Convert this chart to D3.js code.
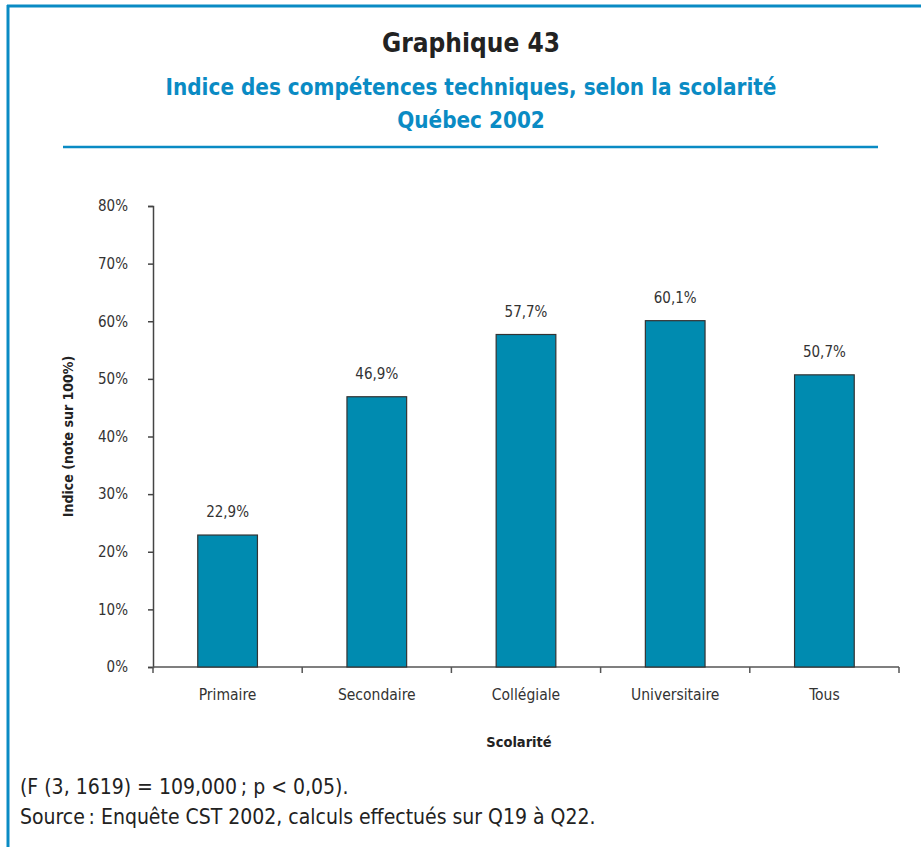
<!DOCTYPE html>
<html>
<head>
<meta charset="utf-8">
<script src="https://cdn.jsdelivr.net/npm/d3@7"></script>
<style>
  body { margin: 0; background: #fff; }
  svg { display: block; }
</style>
</head>
<body>
<svg id="chart" width="921" height="847"></svg>
<script>
// Scolarité categories and technical-skills index (%)
const categories = ["Primaire", "Secondaire", "Collégiale", "Universitaire", "Tous"];
const values = [22.9, 46.9, 57.7, 60.1, 50.7];
const yTicks = [0, 10, 20, 30, 40, 50, 60, 70, 80];

const titleText = "Graphique 43";
const subtitleLines = ["Indice des compétences techniques, selon la scolarité", "Québec 2002"];
const yAxisTitle = "Indice (note sur 100%)";
const xAxisTitle = "Scolarité";
const footerLines = [
  "(F (3, 1619) = 109,000\u2009; p < 0,05).",
  "Source\u2009: Enquête CST 2002, calculs effectués sur Q19 à Q22."
];

const FONT = "'Liberation Sans Narrow', 'DejaVu Sans Condensed', 'Open Sans', sans-serif";
const BLUE = "#0a8bc4";
const BAR = "#008bb0";

const svg = d3.select("#chart");

// Frame
svg.append("line").attr("x1", 7).attr("x2", 921).attr("y1", 6).attr("y2", 6)
  .attr("stroke", BLUE).attr("stroke-width", 3);
svg.append("line").attr("x1", 8).attr("x2", 8).attr("y1", 5).attr("y2", 847)
  .attr("stroke", BLUE).attr("stroke-width", 3);

// Titles
svg.append("text").attr("x", 471).attr("y", 52).attr("text-anchor", "middle")
  .attr("font-family", FONT).attr("font-weight", "bold").attr("font-size", 26)
  .attr("fill", "#222").text(titleText);
subtitleLines.forEach((t, i) => {
  svg.append("text").attr("x", 471).attr("y", 95 + i * 33).attr("text-anchor", "middle")
    .attr("font-family", FONT).attr("font-weight", "bold").attr("font-size", 22.3)
    .attr("fill", BLUE).text(t);
});
svg.append("line").attr("x1", 63).attr("x2", 878).attr("y1", 147).attr("y2", 147)
  .attr("stroke", BLUE).attr("stroke-width", 2.5);

// Plot area
const x0 = 153, x1 = 899, yTop = 206, yBot = 667;
const x = d3.scaleBand().domain(categories).range([x0, x1]).paddingInner(0.6).paddingOuter(0.3);
const xb = d3.scaleBand().domain(categories).range([x0, x1]);
const y = d3.scaleLinear().domain([0, 80]).range([yBot, yTop]);

// Y axis
const yAxis = d3.axisLeft(y).tickValues(yTicks).tickSize(5).tickFormat(d => d + "%");
const gy = svg.append("g").attr("transform", `translate(${x0},0)`).call(yAxis);
gy.select(".domain").attr("stroke", "#444").attr("stroke-width", 1.5);
gy.selectAll(".tick line").attr("stroke", "#444").attr("stroke-width", 1.5);
gy.selectAll(".tick text").attr("font-family", FONT).attr("font-size", 15)
  .attr("fill", "#333").attr("x", -25);

// X axis with ticks at category boundaries
const boundaries = categories.map(c => xb(c)).concat([x1]);
svg.append("line").attr("x1", x0).attr("x2", x1).attr("y1", yBot).attr("y2", yBot)
  .attr("stroke", "#555").attr("stroke-width", 1.5);
svg.selectAll(".xtick").data(boundaries).enter().append("line")
  .attr("x1", d => d).attr("x2", d => d).attr("y1", yBot).attr("y2", yBot + 6)
  .attr("stroke", "#555").attr("stroke-width", 1.5);
svg.selectAll(".xlabel").data(categories).enter().append("text")
  .attr("x", d => xb(d) + xb.bandwidth() / 2).attr("y", yBot + 33)
  .attr("text-anchor", "middle").attr("font-family", FONT).attr("font-size", 15.5)
  .attr("fill", "#333").text(d => d);

// Bars
const data = categories.map((c, i) => ({ c, v: values[i] }));
svg.selectAll(".bar").data(data).enter().append("rect")
  .attr("x", d => x(d.c)).attr("width", x.bandwidth())
  .attr("y", d => y(d.v)).attr("height", d => y(0) - y(d.v))
  .attr("fill", BAR).attr("stroke", "#333").attr("stroke-width", 1.2);

// Value labels
svg.selectAll(".val").data(data).enter().append("text")
  .attr("x", d => x(d.c) + x.bandwidth() / 2).attr("y", d => y(d.v) - 18)
  .attr("text-anchor", "middle").attr("font-family", FONT).attr("font-size", 15)
  .attr("fill", "#333").text(d => d3.format(".1f")(d.v).replace(".", ",") + "%");

// Axis titles
svg.append("text").attr("transform", `translate(73,${(yTop + yBot) / 2}) rotate(-90)`)
  .attr("text-anchor", "middle").attr("font-family", FONT).attr("font-weight", "bold")
  .attr("font-size", 14).attr("fill", "#222").text(yAxisTitle);
svg.append("text").attr("x", 519).attr("y", 747).attr("text-anchor", "middle")
  .attr("font-family", FONT).attr("font-weight", "bold").attr("font-size", 14.5)
  .attr("fill", "#222").text(xAxisTitle);

// Footer notes
footerLines.forEach((t, i) => {
  svg.append("text").attr("x", 20).attr("y", 794 + i * 30)
    .attr("font-family", FONT).attr("font-size", 21).attr("fill", "#222").text(t);
});
</script>
</body>
</html>
